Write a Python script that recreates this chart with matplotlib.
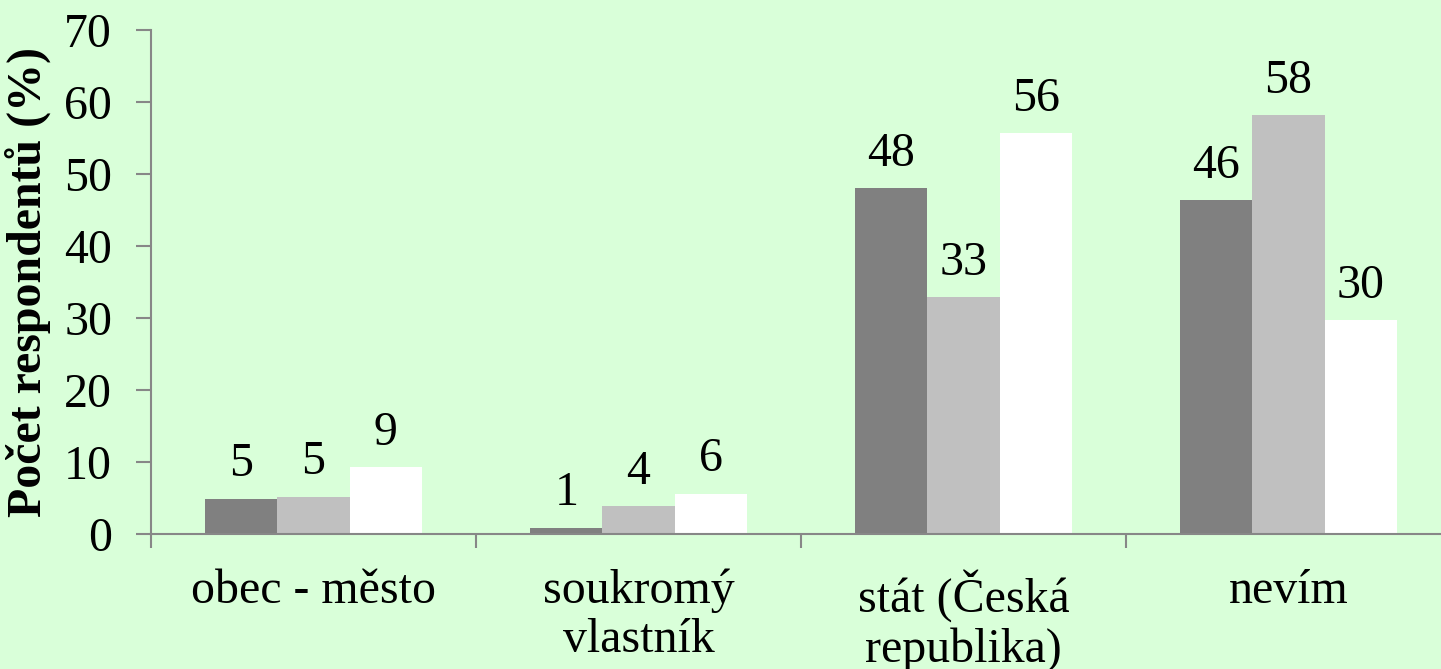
import numpy as np
import matplotlib.pyplot as plt
import matplotlib as mpl

mpl.rcParams['font.family'] = ['Liberation Serif', 'DejaVu Serif']

# data
categories = ['obec - město', 'soukromý\nvlastník', 'stát (Česká\nrepublika)', 'nevím']
dark_vals = [4.9, 0.9, 48.0, 46.4]
gray_vals = [5.2, 3.9, 32.9, 58.2]
white_vals = [9.3, 5.6, 55.7, 29.7]
yticks = [0, 10, 20, 30, 40, 50, 60, 70]

bg = '#d9ffd9'
axis_col = '#878787'
fs = 34.5

fig = plt.figure(figsize=(14.41, 6.69), dpi=100)
fig.patch.set_facecolor(bg)
ax = fig.add_axes([151/1441, 135/669, 1300/1441, 504/669])
ax.set_facecolor(bg)

x = np.arange(len(categories))
w = 0.222
series = [(dark_vals, '#808080'), (gray_vals, '#c0c0c0'), (white_vals, '#ffffff')]
for i, (vals, col) in enumerate(series):
    bars = ax.bar(x + (i - 1) * w, vals, w, color=col, edgecolor='none', zorder=2)
    for b, v in zip(bars, vals):
        ax.annotate(f'{v:.0f}', (b.get_x() + b.get_width() / 2, v),
                    xytext=(0, 16), textcoords='offset points',
                    ha='center', va='baseline', fontsize=fs)

ax.set_xlim(-0.5, len(categories) - 0.5)
ax.set_ylim(0, 70)
ax.set_yticks(yticks)
ax.tick_params(axis='y', labelsize=fs, length=11, width=1.5, color=axis_col, pad=17)

# category ticks sit on the boundaries, labels in the middle
ax.set_xticks(np.arange(len(categories) + 1) - 0.5)
ax.set_xticklabels([])
ax.set_xticks(x, minor=True)
ax.set_xticklabels(categories, minor=True, fontsize=fs, linespacing=1.15, va='top')
ax.tick_params(axis='x', which='major', length=10, width=1.5, color=axis_col)
ax.tick_params(axis='x', which='minor', length=0, pad=25)

for s in ['top', 'right']:
    ax.spines[s].set_visible(False)
for s in ['left', 'bottom']:
    ax.spines[s].set_color(axis_col)
    ax.spines[s].set_linewidth(1.5)

ax.set_ylabel('Počet respondentů (%)', fontsize=fs, fontweight='bold')
ax.yaxis.set_label_coords(-100/1300, 0.5)

plt.savefig('out.png', dpi=100, facecolor=bg)
